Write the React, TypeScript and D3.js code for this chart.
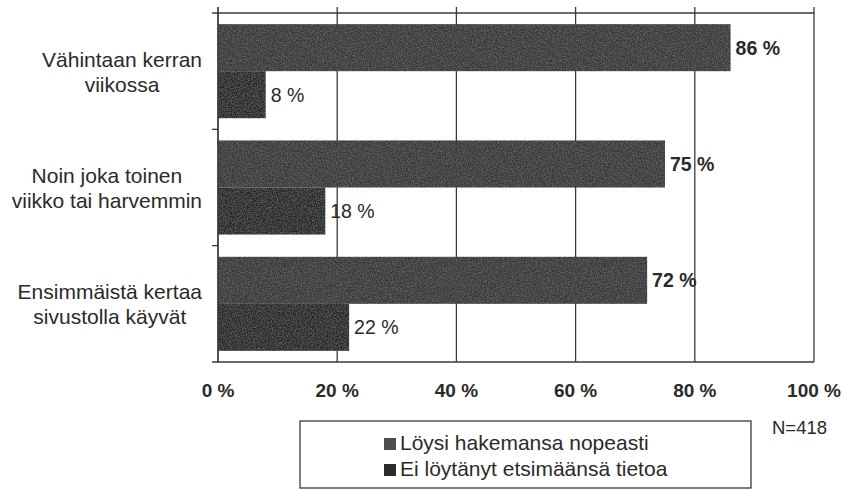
import React, { useEffect, useRef } from "react";
import * as d3 from "d3";

const categories: string[][] = [
  ["Vähintaan kerran", "viikossa"],
  ["Noin joka toinen", "viikko tai harvemmin"],
  ["Ensimmäistä kertaa", "sivustolla käyvät"],
];
const seriesNames = ["Löysi hakemansa nopeasti", "Ei löytänyt etsimäänsä tietoa"];
const foundQuickly = [86, 75, 72];
const notFound = [8, 18, 22];
const xTicks = [0, 20, 40, 60, 80, 100];
const note = "N=418";

const W = 844;
const H = 490;
const FONT = "'Liberation Sans', Arial, Helvetica, sans-serif";

export default function App() {
  const ref = useRef<SVGSVGElement>(null);

  useEffect(() => {
    const svg = d3.select(ref.current);
    svg.selectAll("*").remove();

    const defs = svg.append("defs");
    const f = defs.append("filter").attr("id", "grain").attr("x", 0).attr("y", 0).attr("width", 1).attr("height", 1);
    f.append("feTurbulence").attr("type", "fractalNoise").attr("baseFrequency", 0.8).attr("numOctaves", 2).attr("seed", 3).attr("result", "noise");
    f.append("feColorMatrix").attr("in", "noise").attr("type", "matrix")
      .attr("values", "0 0 0 0 0.45  0 0 0 0 0.45  0 0 0 0 0.45  0 0 0 0.5 -0.18")
      .attr("result", "spots");
    f.append("feComposite").attr("in", "spots").attr("in2", "SourceGraphic").attr("operator", "in").attr("result", "clipped");
    const m = f.append("feMerge");
    m.append("feMergeNode").attr("in", "SourceGraphic");
    m.append("feMergeNode").attr("in", "clipped");

    const left = 218, right = 814, top = 13, bottom = 362;
    const x = d3.scaleLinear().domain([0, 100]).range([left, right]);
    const idx = categories.map((_, i) => i);
    const y = d3.scaleBand<number>().domain(idx).range([top, bottom]).paddingInner(0).paddingOuter(0);
    const ySub = d3.scaleBand<number>().domain([0, 1]).range([0, y.bandwidth()]).paddingInner(0).paddingOuter(0.237);

    const series = [foundQuickly, notFound];
    const barColors = ["#393939", "#282828"];
    const legendColors = ["#4d4d4d", "#2a2a2a"];
    const lineColor = "#3a3a3a";
    const textColor = "#2a2a2a";

    const g = svg.append("g");
    xTicks.forEach((t) => {
      g.append("line")
        .attr("x1", x(t)).attr("x2", x(t))
        .attr("y1", top - 6).attr("y2", bottom)
        .attr("stroke", lineColor).attr("stroke-width", 1.3);
    });
    [top, bottom].forEach((yy) => {
      g.append("line")
        .attr("x1", left - 6).attr("x2", right)
        .attr("y1", yy).attr("y2", yy)
        .attr("stroke", lineColor).attr("stroke-width", 1.3);
    });
    idx.slice(1).forEach((i) => {
      const yy = y(i)!;
      g.append("line")
        .attr("x1", left - 6).attr("x2", left)
        .attr("y1", yy).attr("y2", yy)
        .attr("stroke", lineColor).attr("stroke-width", 1.3);
    });

    series.forEach((vals, s) => {
      vals.forEach((v, i) => {
        const y0 = y(i)! + ySub(s)!;
        svg.append("rect")
          .attr("x", x(0)).attr("y", y0)
          .attr("width", x(v) - x(0)).attr("height", ySub.bandwidth())
          .attr("fill", barColors[s])
          .attr("filter", "url(#grain)");
        svg.append("text")
          .attr("x", x(v) + 5).attr("y", y0 + ySub.bandwidth() / 2)
          .attr("dy", "0.36em")
          .attr("font-family", FONT).attr("font-size", 19.5)
          .attr("font-weight", s === 0 ? "bold" : "normal")
          .attr("fill", textColor)
          .text(`${v} %`);
      });
    });

    svg.append("line")
      .attr("x1", left).attr("x2", left)
      .attr("y1", top - 6).attr("y2", bottom)
      .attr("stroke", lineColor).attr("stroke-width", 1.3);

    const blockRight = 202;
    categories.forEach((lines, i) => {
      const cy = y(i)! + y.bandwidth() / 2;
      const texts = lines.map((ln, k) =>
        svg.append("text")
          .attr("font-family", FONT).attr("font-size", 21)
          .attr("fill", textColor)
          .attr("text-anchor", "middle")
          .attr("y", cy + (k - (lines.length - 1) / 2) * 25)
          .attr("dy", "0.38em")
          .text(ln)
      );
      const widths = texts.map((t) => (t.node() as SVGTextElement).getComputedTextLength());
      const bw = Math.max(...widths);
      const cx = blockRight - bw / 2;
      texts.forEach((t) => t.attr("x", cx));
    });

    xTicks.forEach((t) => {
      svg.append("text")
        .attr("x", x(t)).attr("y", 397)
        .attr("text-anchor", "middle")
        .attr("font-family", FONT).attr("font-size", 19).attr("font-weight", "bold")
        .attr("fill", textColor)
        .text(`${t} %`);
    });

    svg.append("text")
      .attr("x", 772).attr("y", 434)
      .attr("font-family", FONT).attr("font-size", 18.5)
      .attr("fill", textColor)
      .text(note);

    svg.append("rect")
      .attr("x", 300).attr("y", 421).attr("width", 451).attr("height", 67)
      .attr("fill", "white").attr("stroke", lineColor).attr("stroke-width", 1.3);
    seriesNames.forEach((name, s) => {
      const by = 450 + s * 26;
      svg.append("rect")
        .attr("x", 384).attr("y", by - 12).attr("width", 12).attr("height", 12)
        .attr("fill", legendColors[s]);
      svg.append("text")
        .attr("x", 400).attr("y", by)
        .attr("font-family", FONT).attr("font-size", 21)
        .attr("fill", textColor)
        .text(name);
    });
  }, []);

  return (
    <svg
      ref={ref}
      width={W}
      height={H}
      style={{ position: "absolute", left: 0, top: 0, background: "white" }}
    />
  );
}
